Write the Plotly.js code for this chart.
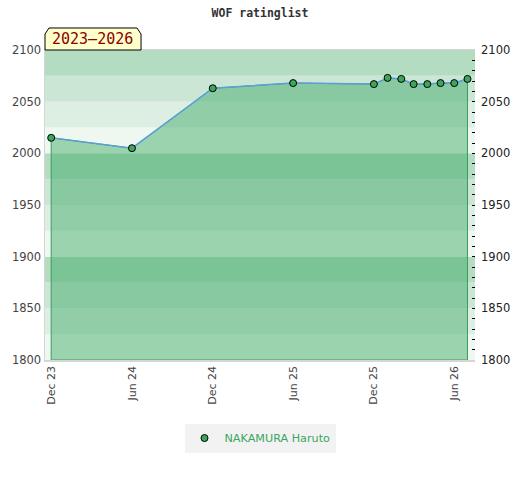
<!DOCTYPE html>
<html>
<head>
<meta charset="utf-8">
<script src="https://cdn.plot.ly/plotly-3.0.1.min.js"></script>
<style>html,body{margin:0;padding:0;background:#fff;}#chart{width:520px;height:480px;}</style>
</head>
<body>
<div id="chart"></div>
<script>
// Data
const dates = ['2023-12-01','2024-06-01','2024-12-01','2025-06-01','2025-12-01','2026-01-01','2026-02-01','2026-03-01','2026-04-01','2026-05-01','2026-06-01','2026-07-01'];
const ratings = [2015, 2005, 2063, 2068, 2067, 2073, 2072, 2067, 2067, 2068, 2068, 2072];
const playerName = 'NAKAMURA Haruto';
const periodLabel = '2023–2026';
const chartTitle = 'WOF ratinglist';
const yMin = 1800, yMax = 2100;

// Background bands every 25 points
const bandColors = ['#eef7f0', '#ddeee3', '#cce6d6', '#b3dcc0'];
const shapes = [];
for (let v = yMin, i = 0; v < yMax; v += 25, i++) {
  shapes.push({type:'rect', xref:'paper', yref:'y', x0:0, x1:1, y0:v, y1:v+25,
    fillcolor: bandColors[i % 4], line:{width:0}, layer:'below'});
}
// chamfered label box
shapes.push({type:'path', xref:'paper', yref:'paper', layer:'above',
  path:'M 0 1 L 0 1.0516 L 0.0093 1.0710 L 0.2140 1.0710 L 0.2233 1.0516 L 0.2233 1 Z',
  fillcolor:'#ffffcc', line:{color:'#000', width:1}});

const fillX = dates.concat([dates[dates.length-1], dates[0], dates[0]]);
const fillY = ratings.concat([yMin, yMin, ratings[0]]);

const traces = [
  {x: fillX, y: fillY, type:'scatter', mode:'lines', fill:'toself',
   fillcolor:'rgba(57,168,98,0.46)', line:{color:'#3a9d5d', width:1},
   hoverinfo:'skip', showlegend:false},
  {x: dates, y: ratings, type:'scatter', mode:'lines', showlegend:false,
   line:{color:'#5b9fd6', width:1.5}},
  {x: dates, y: ratings, type:'scatter', mode:'markers', name: playerName,
   marker:{color:'#3aa65e', size:7, line:{color:'#000', width:1}}},
  {x: [dates[0]], y: [ratings[0]], yaxis:'y2', type:'scatter', mode:'markers',
   marker:{opacity:0}, showlegend:false, hoverinfo:'skip'}
];

const layout = {
  width:520, height:480,
  margin:{l:45, r:45, t:50, b:120},
  paper_bgcolor:'#fff', plot_bgcolor:'#fff',
  title:{text: chartTitle, x:0.5, xanchor:'center', y:0.972, yanchor:'middle',
    font:{family:'DejaVu Sans Mono', size:11.5, color:'#333', weight:'bold'}},
  font:{family:'DejaVu Sans', size:11, color:'#444'},
  xaxis:{type:'date', range:['2023-11-17','2026-07-18'], tick0:'2023-12-01', dtick:'M6',
    tickformat:'%b %y', tickangle:-90, showgrid:false, zeroline:false,
    showline:true, linecolor:'#d6d6d6', linewidth:1.5, mirror:true, ticks:'',
    tickfont:{family:'DejaVu Sans', size:11, color:'#444'}},
  yaxis:{range:[yMin,yMax], dtick:50, showgrid:false, zeroline:false,
    showline:true, linecolor:'#d6d6d6', linewidth:1.5, ticks:'',
    tickfont:{family:'DejaVu Sans', size:11.5, color:'#444'}},
  yaxis2:{range:[yMin,yMax], dtick:50, overlaying:'y', side:'right', showgrid:false,
    zeroline:false, ticks:'inside', ticklen:3, tickcolor:'#000', tickwidth:1,
    ticklabelstandoff:5,
    minor:{dtick:10, ticks:'inside', ticklen:3, tickcolor:'#000', tickwidth:1},
    tickfont:{family:'DejaVu Sans', size:11.5, color:'#222'}},
  showlegend:true,
  legend:{orientation:'h', x:0.5, xanchor:'center', y:-0.205, yanchor:'top',
    bgcolor:'#f2f2f2', itemwidth:30, tracegroupgap:0,
    font:{family:'DejaVu Sans', size:11.2, color:'#3aa65e'}},
  shapes: shapes,
  annotations:[{xref:'paper', yref:'paper', x:0.1116, y:1.0355, xanchor:'center', yanchor:'middle',
    text: periodLabel, showarrow:false,
    font:{family:'DejaVu Sans Mono', size:15, color:'#8b0000'}}]
};

Plotly.newPlot('chart', traces, layout, {displayModeBar:false, staticPlot:true});
</script>
</body>
</html>
